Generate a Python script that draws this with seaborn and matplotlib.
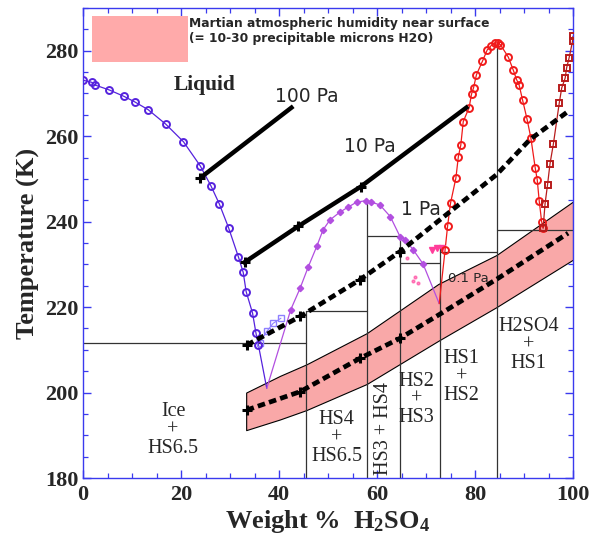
import numpy as np
import pandas as pd
import matplotlib
matplotlib.use("Agg")
import matplotlib.pyplot as plt
import seaborn as sns
from matplotlib.patches import Rectangle
from matplotlib.ticker import MultipleLocator

# Ice melting curve (wt% H2SO4, K)
ice_x = [0.0, 1.8, 2.4, 5.4, 8.4, 10.6, 13.3, 16.9, 20.5, 23.9, 26.1, 27.8, 29.7,
         31.7, 32.7, 33.3, 34.6, 35.3, 35.8]
ice_t = [273.1, 272.6, 272.0, 270.8, 269.3, 268.0, 266.2, 262.8, 258.7, 253.1, 248.4,
         244.2, 238.6, 231.8, 228.1, 223.6, 218.6, 213.9, 211.1]
eutectic_x = 37.5
eutectic_t = 201.0

# metastable open squares
sq_x = [36.1, 37.5, 38.8, 40.4]
sq_t = [211.7, 214.3, 216.2, 217.4]

# HS6.5 / HS4 liquidus (purple)
hs4_x = [42.4, 44.3, 46.0, 47.7, 49.0, 50.4, 52.4, 54.1, 55.9, 57.8, 58.8, 60.6, 62.7,
         64.7, 65.7, 67.4, 69.4]
hs4_t = [219.4, 224.4, 229.5, 234.2, 238.1, 240.4, 242.2, 243.4, 244.6, 244.9, 244.6,
         243.9, 241.2, 236.5, 235.8, 233.4, 230.1]
hs4_end_x = 72.7
hs4_end_t = 220.8

# scattered pink points and triangles
dot_x = [66.1, 67.4, 67.8, 68.4]
dot_t = [231.5, 226.0, 227.1, 225.6]
tri_x = [71.2, 72.2, 73.2]
tri_t = [233.4, 233.8, 233.9]

# HS1 liquidus (red)
hs1_x = [73.9, 74.4, 75.0, 76.1, 76.6, 77.1, 77.6, 78.8, 79.3, 79.7, 80.3, 81.5, 82.5,
         83.3, 84.1, 84.7, 85.2, 86.8, 87.8, 88.5, 89.0, 89.7, 90.6, 91.4, 92.3, 92.7,
         93.1, 93.6, 93.9]
hs1_t = [233.4, 238.9, 244.3, 250.2, 255.2, 257.9, 263.4, 266.7, 269.9, 271.3, 274.4,
         277.5, 280.2, 281.2, 281.8, 281.9, 281.4, 278.5, 275.5, 273.2, 272.0, 268.5,
         264.1, 259.6, 252.5, 249.8, 244.9, 240.0, 238.5]

# H2SO4 liquidus (dark red squares)
h2so4_x = [93.9, 94.3, 94.8, 95.3, 96.0, 97.2, 97.7, 98.4, 98.7, 99.2, 99.9, 100.0]
h2so4_t = [238.5, 244.2, 248.6, 253.5, 258.2, 267.8, 271.3, 273.6, 276.0, 278.3, 282.2, 283.4]

# frost point lines for water vapour pressures
p100_x = [23.9, 42.9]
p100_t = [250.2, 267.0]
p10_x = [32.6, 43.9, 56.7, 78.6]
p10_t = [230.2, 238.9, 248.2, 267.0]
p1_x = [33.4, 44.3, 56.5, 64.7, 84.4, 91.2, 99.0]
p1_t = [211.1, 217.8, 226.4, 233.0, 251.0, 259.2, 265.8]
p01_x = [33.4, 44.3, 56.5, 64.7, 73.2, 84.8, 99.0]
p01_t = [195.9, 200.2, 208.0, 212.7, 218.6, 226.8, 237.3]
cross_x = [23.9, 33.0, 43.9, 56.7, 33.4, 44.3, 56.5, 64.7, 33.4, 44.3, 56.5, 64.7]
cross_t = [250.2, 230.5, 238.9, 248.2, 211.1, 217.8, 226.4, 233.0, 195.9, 200.2, 208.0, 212.7]

# Martian humidity band
band_x = [33.3, 40.2, 45.6, 57.9, 72.5, 84.4, 100.0]
band_lo = [191.2, 193.7, 195.9, 202.0, 212.1, 220.0, 231.1]
band_hi = [200.0, 203.9, 206.6, 213.9, 225.4, 232.2, 244.7]

# phase boundary segments (x0, x1, t0, t1)
seg_x0 = [0.0, 45.6, 45.6, 57.9, 57.9, 64.7, 64.7, 72.9, 72.9, 84.4, 84.4]
seg_x1 = [45.6, 45.6, 57.9, 57.9, 64.7, 64.7, 72.9, 72.9, 84.4, 84.4, 100.0]
seg_t0 = [211.6, 180.0, 219.0, 180.0, 236.7, 180.0, 230.4, 180.0, 232.9, 180.0, 238.1]
seg_t1 = [211.6, 219.0, 219.0, 244.9, 236.7, 236.7, 230.4, 234.0, 232.9, 281.4, 238.1]

BLUE = "#3a3aee"
ICE = "#5522dd"
PURPLE = "#b24fe0"
LAV = "#8f80ff"
RED = "#f01a1a"
DRED = "#b81c1c"
PINK = "#ff3d9a"
BAND = "#f9a8a8"

sns.set_style("ticks")
plt.rcParams["font.family"] = ["Liberation Serif", "DejaVu Serif"]
plt.rcParams["mathtext.fontset"] = "custom"
plt.rcParams["mathtext.rm"] = "Liberation Serif:bold"
plt.rcParams["mathtext.bf"] = "Liberation Serif:bold"
plt.rcParams["mathtext.it"] = "Liberation Serif:bold"

fig = plt.figure(figsize=(6.01, 5.39), dpi=100)
ax = fig.add_axes([83 / 601, 1 - 478 / 539, 490 / 601, 470 / 539])

# humidity band
ax.fill_between(band_x, band_lo, band_hi, facecolor=BAND, edgecolor="black",
                linewidth=0.8, zorder=1)

# phase boundaries
for a, b, c, d in zip(seg_x0, seg_x1, seg_t0, seg_t1):
    ax.plot([a, b], [c, d], color="#333333", lw=0.9, zorder=2)

# liquidus curves
sns.lineplot(x=ice_x + [eutectic_x], y=ice_t + [eutectic_t], ax=ax, color=ICE,
             lw=0.9, sort=False, estimator=None, zorder=4)
ax.plot(ice_x, ice_t, ls="none", marker="o", ms=5, mfc="none", mec=ICE, mew=1.4, zorder=5)
sns.lineplot(x=sq_x, y=sq_t, ax=ax, color=LAV, lw=0.8, marker="s", ms=5,
             markerfacecolor="none", markeredgecolor=LAV, markeredgewidth=1.0,
             sort=False, estimator=None, zorder=4)
sns.lineplot(x=[eutectic_x] + hs4_x + [hs4_end_x], y=[eutectic_t] + hs4_t + [hs4_end_t],
             ax=ax, color=PURPLE, lw=0.9, sort=False, estimator=None, zorder=4)
ax.plot(hs4_x, hs4_t, ls="none", marker="D", ms=3.2, color=PURPLE, mec=PURPLE, zorder=5)
ax.plot(dot_x, dot_t, ls="none", marker="o", ms=2, color=PINK, alpha=0.6, zorder=4)
ax.plot(tri_x, tri_t, color=PINK, lw=0.8, marker="v", ms=5, mec=PINK, zorder=5)
sns.lineplot(x=[hs4_end_x] + hs1_x, y=[hs4_end_t] + hs1_t, ax=ax, color=RED, lw=0.9,
             sort=False, estimator=None, zorder=4)
ax.plot(hs1_x, hs1_t, ls="none", marker="o", ms=5, mfc="none", mec=RED, mew=1.4, zorder=5)
sns.lineplot(x=h2so4_x, y=h2so4_t, ax=ax, color=DRED, lw=0.9, marker="s", ms=5,
             markerfacecolor="none", markeredgecolor=DRED, markeredgewidth=1.4,
             sort=False, estimator=None, zorder=5)

# frost point lines
ax.plot(p100_x, p100_t, color="black", lw=3.2, solid_capstyle="butt", zorder=6)
ax.plot(p10_x, p10_t, color="black", lw=3.2, solid_capstyle="butt", zorder=6)
ax.plot(p1_x, p1_t, color="black", lw=3.4, ls=(0, (1.6, 0.9)), zorder=6)
ax.plot(p01_x, p01_t, color="black", lw=3.4, ls=(0, (1.6, 0.9)), zorder=6)
ax.plot(cross_x, cross_t, ls="none", marker="+", ms=7.5, mew=2.2, color="black", zorder=7)

ax.set_xlim(0, 100)
ax.set_ylim(180, 290)
ax.xaxis.set_major_locator(MultipleLocator(20))
ax.xaxis.set_minor_locator(MultipleLocator(5))
ax.yaxis.set_major_locator(MultipleLocator(20))
ax.yaxis.set_minor_locator(MultipleLocator(5))
ax.set_yticks([180, 200, 220, 240, 260, 280])
for s in ax.spines.values():
    s.set_color(BLUE)
    s.set_linewidth(1.0)
    s.set_visible(True)
ax.tick_params(which="both", direction="in", top=True, right=True, color=BLUE)
ax.tick_params(which="major", length=6, width=1.0)
ax.tick_params(which="minor", length=3.5, width=0.9)
ax.tick_params(axis="x", which="major", pad=5, labelsize=16)
ax.tick_params(axis="y", which="major", pad=3, labelsize=16)
for lab in ax.get_xticklabels() + ax.get_yticklabels():
    lab.set_fontweight("bold")

ax.set_xlabel(r"Weight %  H$_2$SO$_4$", fontsize=19, fontweight="bold", labelpad=2)
ax.set_ylabel("Temperature (K)", fontsize=19, fontweight="bold", labelpad=4)

# legend-like box
ax.add_patch(Rectangle((0.018, 0.886), 0.196, 0.097, transform=ax.transAxes,
                       facecolor="#ffaaaa", edgecolor="none", zorder=3))
ax.text(0.216, 0.951, "Martian atmospheric humidity near surface\n(= 10-30 precipitable microns H2O)",
        transform=ax.transAxes, fontsize=8.8, fontweight="bold", family="DejaVu Sans",
        va="center", ha="left", linespacing=1.2)

# annotations
ax.text(24.9, 272, "Liquid", fontsize=15.5, fontweight="bold", ha="center", va="center")
sans = dict(family="DejaVu Sans", ha="center", va="center")
ax.text(45.6, 269.2, "100 Pa", fontsize=13.5, **sans)
ax.text(58.6, 257.5, "10 Pa", fontsize=13.5, **sans)
ax.text(69.0, 242.8, "1 Pa", fontsize=13.5, **sans)
ax.text(78.6, 226.8, "0.1 Pa", fontsize=9.5, **sans)

reg = dict(fontsize=14.5, ha="center", va="center", linespacing=0.95)
ax.text(18.4, 191.2, "Ice\n+\nHS6.5", **reg)
ax.text(51.8, 189.3, "HS4\n+\nHS6.5", **reg)
ax.text(61.4, 191.6, "HS3 + HS4", rotation=90, **reg)
ax.text(68.1, 198.4, "HS2\n+\nHS3", **reg)
ax.text(77.3, 203.7, "HS1\n+\nHS2", **reg)
ax.text(90.9, 211.1, "H2SO4\n+\nHS1", **reg)

fig.savefig("out.png", dpi=100)
